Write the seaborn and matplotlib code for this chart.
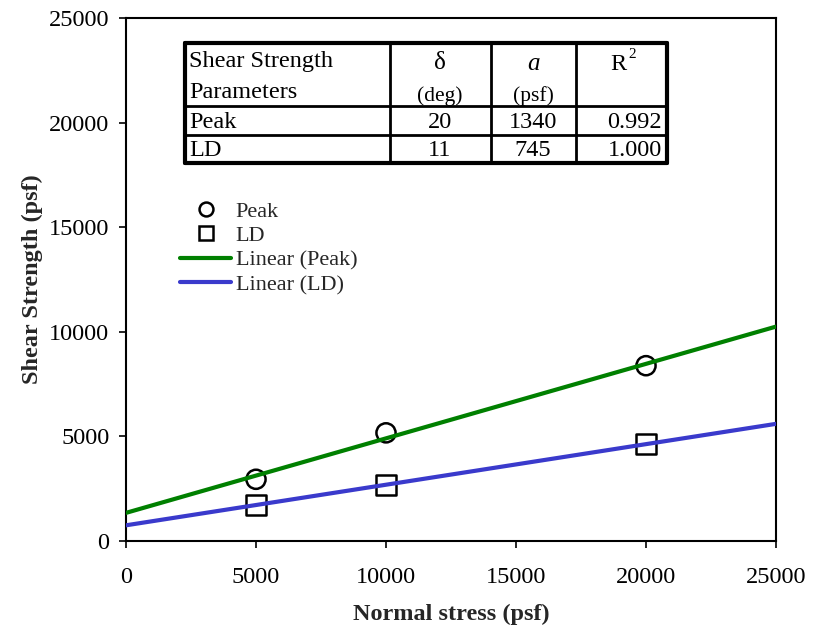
import numpy as np
import pandas as pd
import matplotlib
matplotlib.use("Agg")
import matplotlib.pyplot as plt
from matplotlib.lines import Line2D
import seaborn as sns

# Direct shear test results
normal_stress = [5000, 10000, 20000]
peak_strength = [2950, 5170, 8380]
ld_strength = [1720, 2690, 4630]

# Fitted shear strength parameters
param_rows = ["Peak", "LD"]
delta_deg = ["20", "11"]
adhesion_psf = ["1340", "745"]
r_squared = ["0.992", "1.000"]

axis_ticks = [0, 5000, 10000, 15000, 20000, 25000]

sns.set_style("white")
plt.rcParams["font.family"] = ["Liberation Serif", "DejaVu Serif"]

W, H = 821, 627
FS = 17.5
fig = plt.figure(figsize=(W / 100, H / 100), dpi=100)
ax = fig.add_axes([126 / W, 1 - 541 / H, 650 / W, 523 / H])

ax.set_xlim(0, 25000)
ax.set_ylim(0, 25000)

df = pd.DataFrame({
    "x": normal_stress * 2,
    "y": peak_strength + ld_strength,
    "set": ["Peak"] * 3 + ["LD"] * 3,
})

sns.scatterplot(data=df[df["set"] == "Peak"], x="x", y="y", marker="o", s=190,
                facecolor="none", edgecolor="black", linewidth=1.8, ax=ax,
                zorder=2, legend=False)
sns.scatterplot(data=df[df["set"] == "LD"], x="x", y="y", marker="s", s=210,
                facecolor="none", edgecolor="black", linewidth=1.8, ax=ax,
                zorder=2, legend=False)

green = "#008000"
blue = "#3a3acc"
sns.regplot(x=normal_stress, y=peak_strength, scatter=False, ci=None, truncate=False,
            line_kws=dict(color=green, lw=3, zorder=3), ax=ax)
sns.regplot(x=normal_stress, y=ld_strength, scatter=False, ci=None, truncate=False,
            line_kws=dict(color=blue, lw=3, zorder=3), ax=ax)
ax.set_xlim(0, 25000)
ax.set_ylim(0, 25000)

ax.set_xticks(axis_ticks)
ax.set_yticks(axis_ticks)
ax.set_xticklabels([str(t) for t in axis_ticks])
ax.set_yticklabels([str(t) for t in axis_ticks])
ax.tick_params(axis="both", direction="out", length=5, width=1.2, colors="black",
               labelsize=FS, bottom=True, left=True, top=False, right=False)
ax.tick_params(axis="x", pad=14)
ax.tick_params(axis="y", pad=7)
for s in ax.spines.values():
    s.set_color("black")
    s.set_linewidth(1.5)

ax.set_xlabel("Normal stress (psf)", fontsize=FS, fontweight="bold")
ax.set_ylabel("Shear Strength (psf)", fontsize=FS, fontweight="bold")
ax.xaxis.set_label_coords(0.5, -0.121)
ax.yaxis.set_label_coords(-0.127, 0.5)

# Legend
handles = [
    Line2D([], [], ls="none", marker="o", ms=10, mfc="none", mec="black", mew=1.8),
    Line2D([], [], ls="none", marker="s", ms=10, mfc="none", mec="black", mew=1.8),
    Line2D([], [], color=green, lw=3),
    Line2D([], [], color=blue, lw=3),
]
labels = ["Peak", "LD", "Linear (Peak)", "Linear (LD)"]
ax.legend(handles, labels, loc="upper left", bbox_to_anchor=(54 / 650, (541 - 201) / 523),
          frameon=False, fontsize=16, handlelength=2.3, handletextpad=0.2,
          labelspacing=0.18, borderpad=0, borderaxespad=0)

# Parameter table
def fx(px):
    return px / W

def fy(py):
    return 1 - py / H

cols = [185, 390, 491, 576, 667]
rows = [43, 106, 135, 163]
tkw = dict(transform=fig.transFigure, color="black")
for y in rows:
    lw = 3 if y in (rows[0], rows[-1]) else 2
    fig.add_artist(Line2D([fx(cols[0]), fx(cols[-1])], [fy(y), fy(y)], lw=lw, **tkw))
for x in cols:
    lw = 3 if x in (cols[0], cols[-1]) else 2
    fig.add_artist(Line2D([fx(x), fx(x)], [fy(rows[0]), fy(rows[-1])], lw=lw, **tkw))

fig.text(fx(189), fy(62), "Shear Strength", fontsize=FS, ha="left", va="center", **tkw)
fig.text(fx(189), fy(93), "Parameters", fontsize=FS, ha="left", va="center", **tkw)
fig.text(fx(440), fy(63), "δ", fontsize=18, ha="center", va="center", **tkw)
fig.text(fx(440), fy(96), "(deg)", fontsize=15.5, ha="center", va="center", **tkw)
fig.text(fx(533), fy(64), "a", fontsize=18, style="italic", ha="center", va="center", **tkw)
fig.text(fx(533), fy(96), "(psf)", fontsize=15.5, ha="center", va="center", **tkw)
fig.text(fx(610), fy(64), "R", fontsize=FS, ha="left", va="center", **tkw)
fig.text(fx(628), fy(54), "2", fontsize=11, ha="left", va="center", **tkw)

row_y = [122, 151]
for name, d, a, r, yy in zip(param_rows, delta_deg, adhesion_psf, r_squared, row_y):
    fig.text(fx(189), fy(yy), name, fontsize=FS, ha="left", va="center", **tkw)
    fig.text(fx(440), fy(yy), d, fontsize=FS, ha="center", va="center", **tkw)
    fig.text(fx(533), fy(yy), a, fontsize=FS, ha="center", va="center", **tkw)
    fig.text(fx(662), fy(yy), r, fontsize=FS, ha="right", va="center", **tkw)

fig.savefig("out.png", dpi=100, facecolor="white")
